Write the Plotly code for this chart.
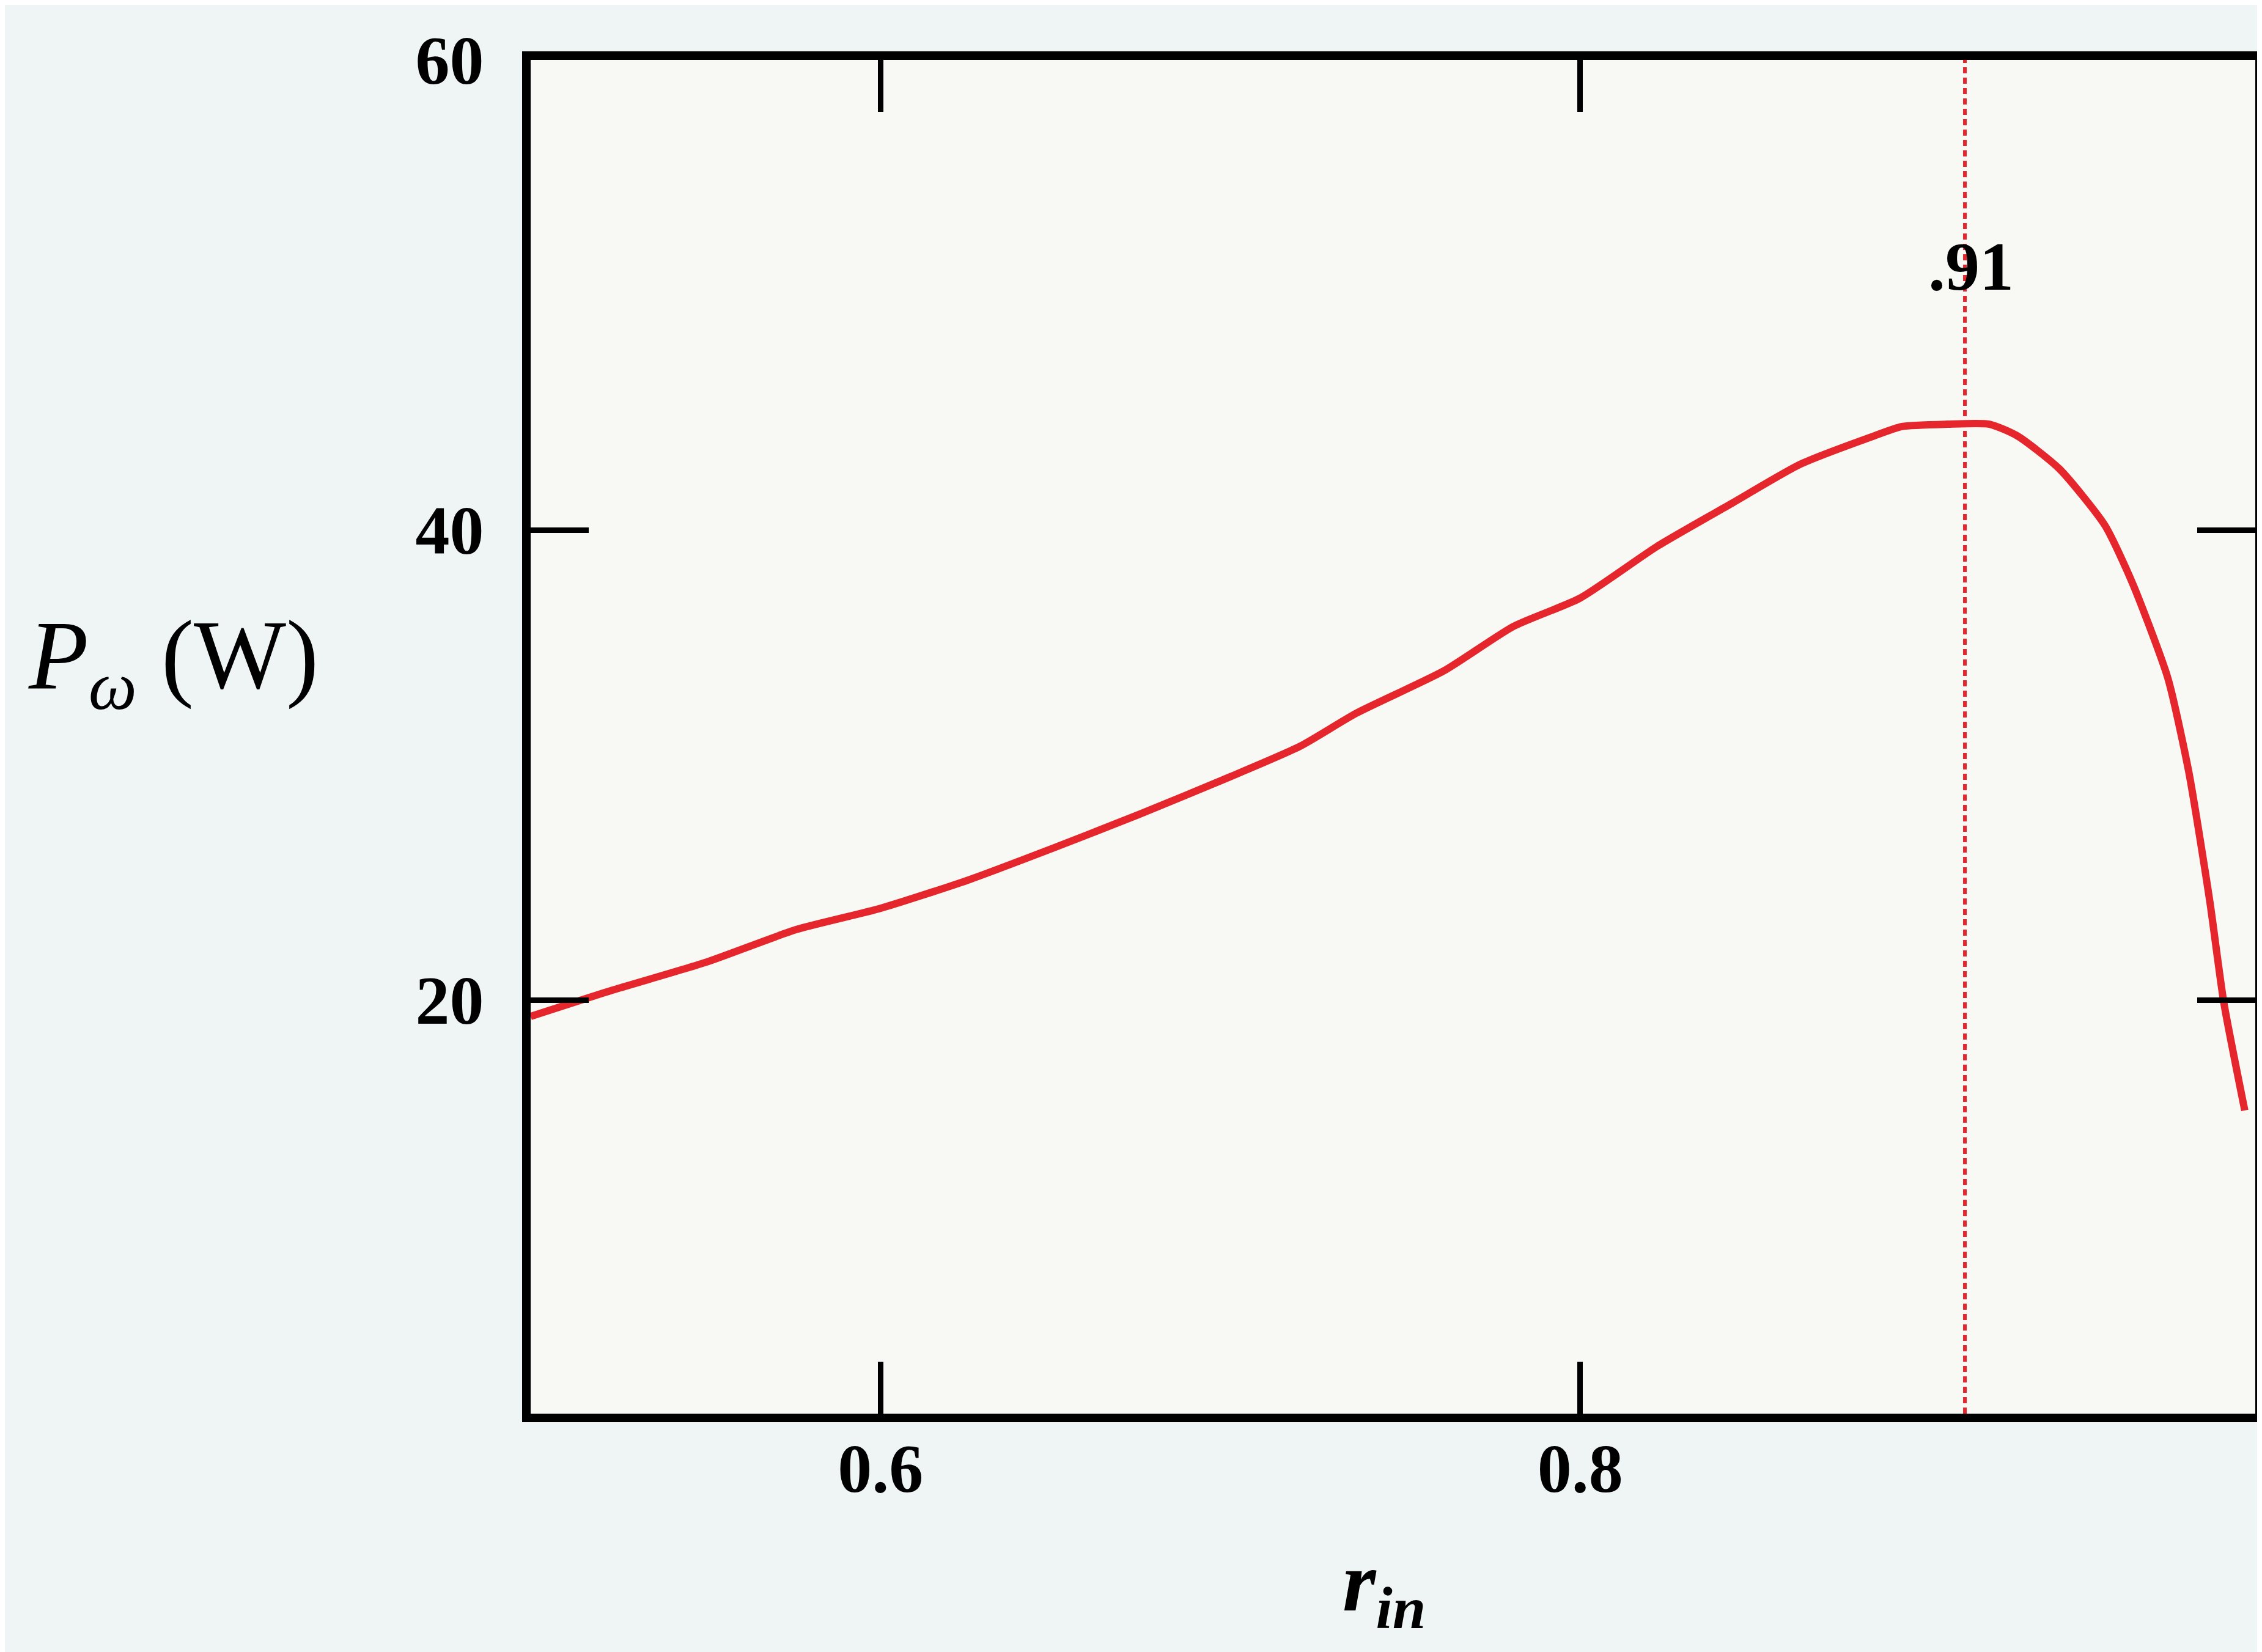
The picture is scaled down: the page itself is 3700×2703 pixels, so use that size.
import plotly.graph_objects as go

# Data
r_in = [0.500, 0.523, 0.550, 0.576, 0.600, 0.625, 0.650, 0.674, 0.700, 0.720,
        0.736, 0.761, 0.781, 0.800, 0.822, 0.843, 0.863, 0.884, 0.892, 0.905,
        0.917, 0.925, 0.937, 0.950, 0.958, 0.968, 0.974, 0.980, 0.984, 0.990]
p_w = [19.3, 20.4, 21.6, 23.0, 23.9, 25.1, 26.5, 27.9, 29.5, 30.8,
       32.2, 34.0, 35.9, 37.1, 39.3, 41.1, 42.8, 44.0, 44.4, 44.5,
       44.5, 44.0, 42.6, 40.2, 37.7, 33.7, 29.7, 24.2, 19.9, 15.3]
x_ticks = [0.6, 0.8]
x_tick_labels = ["0.6", "0.8"]
y_ticks = [20, 40, 60]
y_tick_labels = ["20", "40", "60"]
optimum_r = 0.91
optimum_label = ".91"

RED = "#e5262c"
SERIF = "Liberation Serif"

fig = go.Figure()
fig.add_trace(go.Scatter(x=r_in, y=p_w, mode="lines",
                         line=dict(color=RED, width=12, shape="spline", smoothing=0.6),
                         showlegend=False, hoverinfo="skip"))
fig.add_trace(go.Scatter(x=[optimum_r, optimum_r], y=[2.4, 60], mode="lines",
                         line=dict(color=RED, width=6, dash="10px,7px"),
                         showlegend=False, hoverinfo="skip"))

fig.add_annotation(x=optimum_r, y=51.2, xref="x", yref="y", text=optimum_label,
                   showarrow=False, xshift=10,
                   font=dict(family=SERIF, size=112, color="black", weight="bold"))
fig.add_annotation(x=-0.292, y=0.555, xref="paper", yref="paper", xanchor="left", yanchor="middle",
                   text="<i>P</i><sub><i>ω</i></sub> (W)", showarrow=False,
                   font=dict(family=SERIF, size=160, color="black"))
fig.add_annotation(x=0.470, y=-0.088, xref="paper", yref="paper", xanchor="left", yanchor="top",
                   text="<b><i>r</i></b><sub><b><i>in</i></b></sub>", showarrow=False,
                   font=dict(family=SERIF, size=140, color="black"))

fig.update_layout(
    width=3700, height=2703,
    margin=dict(l=860, r=5, t=90, b=398),
    paper_bgcolor="#eff5f4",
    plot_bgcolor="#f8f9f4",
    showlegend=False,
)
fig.update_xaxes(range=[0.5, 0.993], showgrid=False, zeroline=False,
                 showline=True, linewidth=14, linecolor="black", mirror="ticks",
                 ticks="inside", ticklen=85, tickwidth=9, tickcolor="black",
                 tickvals=x_ticks, ticktext=x_tick_labels, ticklabelstandoff=-20,
                 tickfont=dict(family=SERIF, size=112, color="black", weight="bold"))
fig.update_yaxes(range=[2.4, 60], showgrid=False, zeroline=False,
                 showline=True, linewidth=14, linecolor="black", mirror="ticks",
                 ticks="inside", ticklen=95, tickwidth=9, tickcolor="black",
                 tickvals=y_ticks, ticktext=y_tick_labels, ticklabelstandoff=40,
                 tickfont=dict(family=SERIF, size=112, color="black", weight="bold"))

fig.write_html("out.html")
